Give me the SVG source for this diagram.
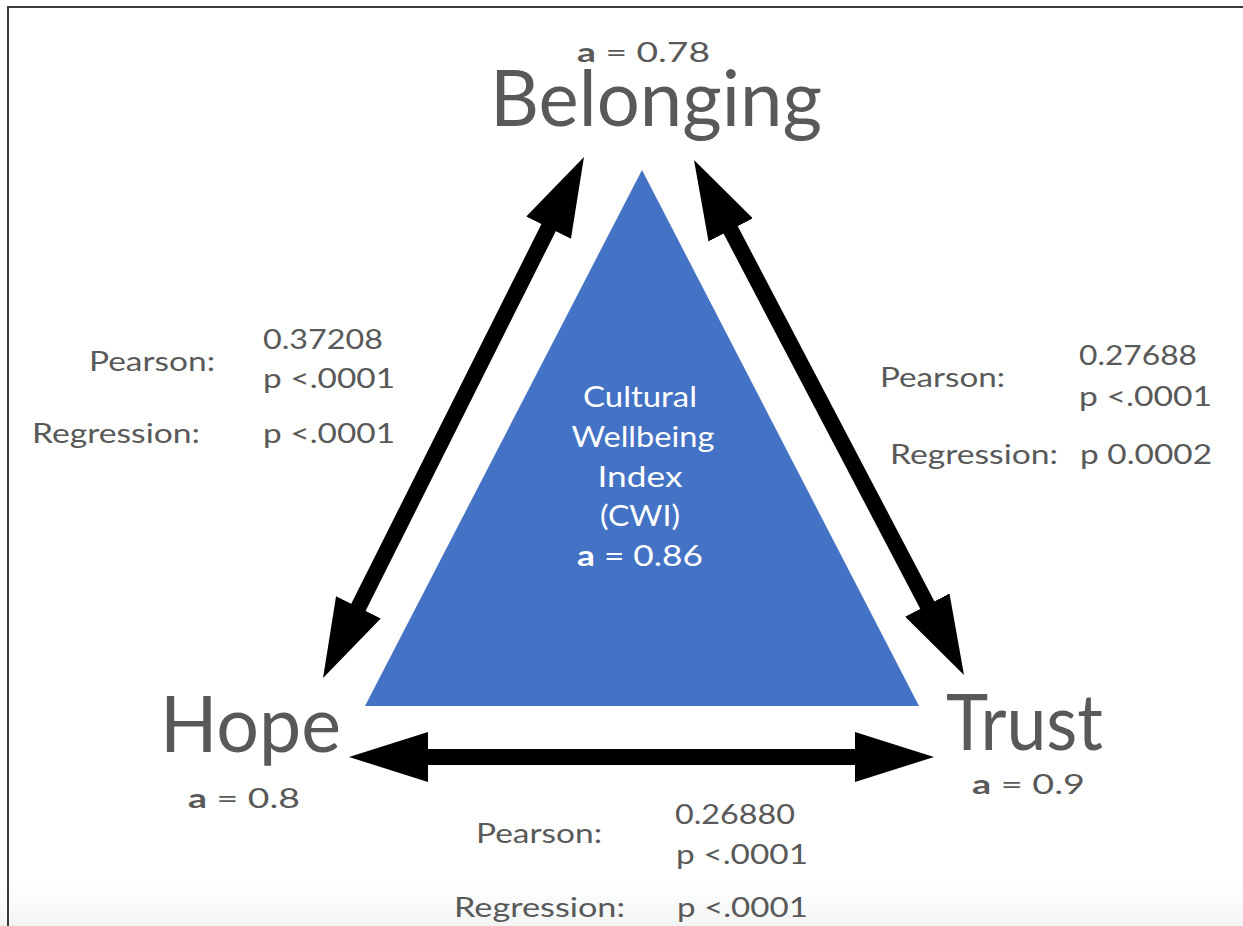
<svg xmlns="http://www.w3.org/2000/svg" width="1243" height="926" viewBox="0 0 1243 926">
  <defs>
    <linearGradient id="fade" x1="0" y1="0" x2="0" y2="1">
      <stop offset="0" stop-color="#ffffff"/>
      <stop offset="1" stop-color="#f3f5f5"/>
    </linearGradient>
    <marker id="head" viewBox="0 0 79 50" markerUnits="userSpaceOnUse" markerWidth="79" markerHeight="50" refX="40" refY="25" orient="auto-start-reverse">
      <path d="M0,0 L79,25 L0,50 z" fill="#000"/>
    </marker>
  </defs>
  <style>
    .lbl { font-family: Lato, "Noto Sans", "Liberation Sans", sans-serif; fill: #595959; }
    .big { font-size: 78px; }
    .alpha { font-size: 27px; }
    .stat { font-size: 26px; }
    .cwi { font-family: Lato, "Noto Sans", "Liberation Sans", sans-serif; fill: #ffffff; font-size: 29px; text-anchor: middle; }
    .b { font-weight: bold; }
    .conn { stroke: #000; stroke-width: 16; fill: none; marker-start: url(#head); marker-end: url(#head); }
  </style>
  <rect x="0" y="0" width="1243" height="926" fill="#ffffff"/>
  <rect x="0" y="880" width="1243" height="46" fill="url(#fade)"/>
  <path d="M8,926 V7 H1243" fill="none" stroke="#3a3a3a" stroke-width="2"/>

  <g id="cwi">
    <polygon points="642,170 919,706 365,706" fill="#4472C4"/>
    <text class="cwi" x="640" y="407" textLength="114" lengthAdjust="spacingAndGlyphs">Cultural</text>
    <text class="cwi" x="643" y="447" textLength="143" lengthAdjust="spacingAndGlyphs">Wellbeing</text>
    <text class="cwi" x="640" y="487" textLength="85" lengthAdjust="spacingAndGlyphs">Index</text>
    <text class="cwi" x="640" y="526" textLength="80" lengthAdjust="spacingAndGlyphs">(CWI)</text>
    <text class="cwi" x="640" y="566" textLength="126" lengthAdjust="spacingAndGlyphs"><tspan class="b">a</tspan> = 0.86</text>
  </g>

  <g id="connectors">
    <line class="conn" x1="566.5" y1="191.9" x2="340.5" y2="643.1"/>
    <line class="conn" x1="712.1" y1="194.5" x2="945.9" y2="640.5"/>
    <line class="conn" x1="388" y1="757" x2="895" y2="757"/>
  </g>

  <g id="belonging">
    <text class="lbl alpha" x="577" y="62" textLength="133" lengthAdjust="spacingAndGlyphs"><tspan class="b">a</tspan> = 0.78</text>
    <text class="lbl big" x="490" y="126" textLength="332" lengthAdjust="spacingAndGlyphs">Belonging</text>
  </g>

  <g id="hope">
    <text class="lbl big" x="160" y="752" textLength="181" lengthAdjust="spacingAndGlyphs">Hope</text>
    <text class="lbl alpha" x="188" y="808" textLength="112" lengthAdjust="spacingAndGlyphs"><tspan class="b">a</tspan> = 0.8</text>
  </g>

  <g id="trust">
    <text class="lbl big" x="946" y="750" textLength="157" lengthAdjust="spacingAndGlyphs">Trust</text>
    <text class="lbl alpha" x="972" y="794" textLength="113" lengthAdjust="spacingAndGlyphs"><tspan class="b">a</tspan> = 0.9</text>
  </g>

  <g id="stats-belonging-hope">
    <text class="lbl stat" x="89" y="371" textLength="126" lengthAdjust="spacingAndGlyphs">Pearson:</text>
    <text class="lbl stat" x="263" y="349" textLength="120" lengthAdjust="spacingAndGlyphs">0.37208</text>
    <text class="lbl stat" x="263" y="388" textLength="132" lengthAdjust="spacingAndGlyphs">p &lt;.0001</text>
    <text class="lbl stat" x="32" y="443" textLength="168" lengthAdjust="spacingAndGlyphs">Regression:</text>
    <text class="lbl stat" x="263" y="443" textLength="132" lengthAdjust="spacingAndGlyphs">p &lt;.0001</text>
  </g>

  <g id="stats-belonging-trust">
    <text class="lbl stat" x="880" y="387" textLength="125" lengthAdjust="spacingAndGlyphs">Pearson:</text>
    <text class="lbl stat" x="1079" y="365" textLength="118" lengthAdjust="spacingAndGlyphs">0.27688</text>
    <text class="lbl stat" x="1079" y="406" textLength="133" lengthAdjust="spacingAndGlyphs">p &lt;.0001</text>
    <text class="lbl stat" x="890" y="464" textLength="168" lengthAdjust="spacingAndGlyphs">Regression:</text>
    <text class="lbl stat" x="1080" y="464" textLength="132" lengthAdjust="spacingAndGlyphs">p 0.0002</text>
  </g>

  <g id="stats-hope-trust">
    <text class="lbl stat" x="476" y="843" textLength="126" lengthAdjust="spacingAndGlyphs">Pearson:</text>
    <text class="lbl stat" x="675" y="824" textLength="120" lengthAdjust="spacingAndGlyphs">0.26880</text>
    <text class="lbl stat" x="676" y="864" textLength="132" lengthAdjust="spacingAndGlyphs">p &lt;.0001</text>
    <text class="lbl stat" x="454" y="917" textLength="171" lengthAdjust="spacingAndGlyphs">Regression:</text>
    <text class="lbl stat" x="677" y="917" textLength="131" lengthAdjust="spacingAndGlyphs">p &lt;.0001</text>
  </g>
</svg>
